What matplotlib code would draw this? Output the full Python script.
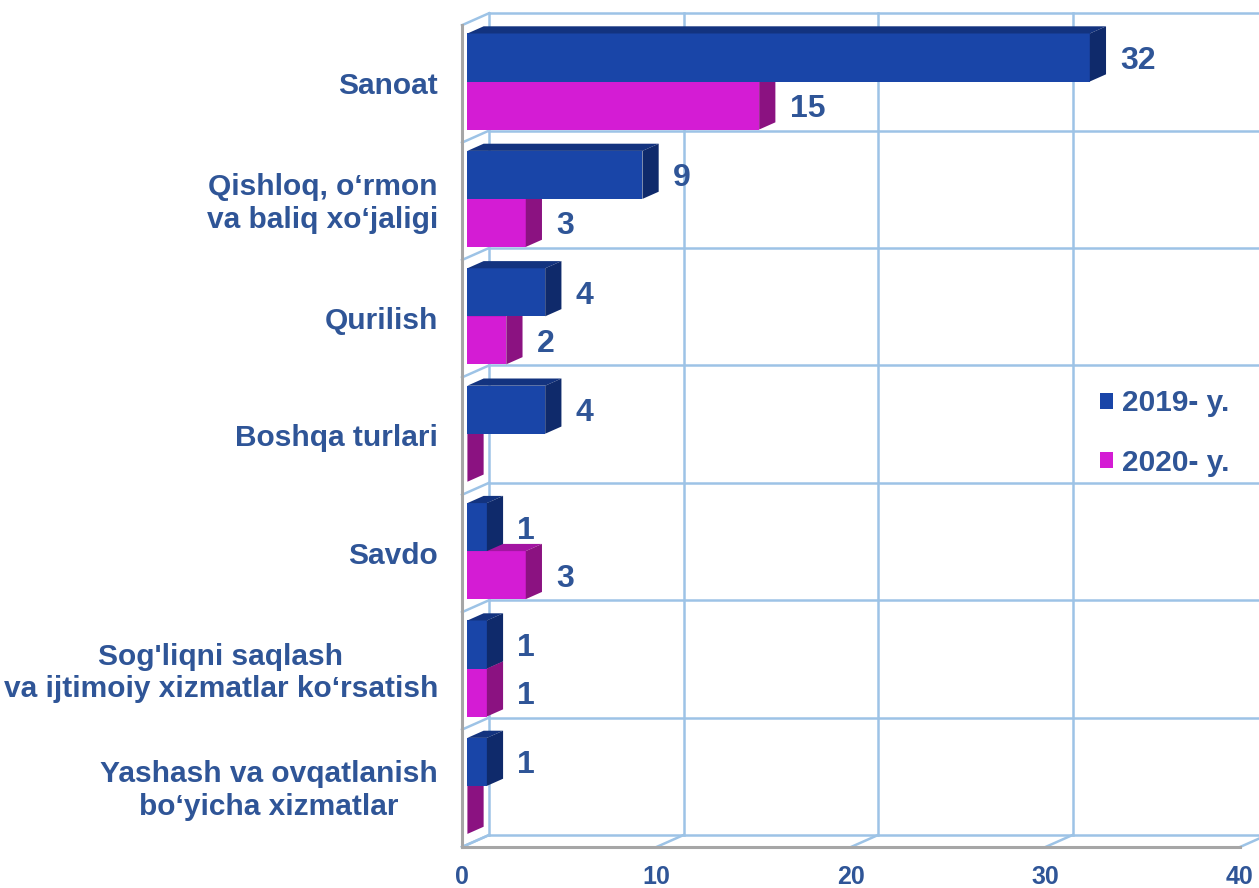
import matplotlib
matplotlib.use("Agg")
import matplotlib.pyplot as plt
from matplotlib.patches import Polygon, Patch

# categories from bottom to top
categories = [
    "Yashash va ovqatlanish\nbo\u2018yicha xizmatlar",
    "Sog'liqni saqlash\nva ijtimoiy xizmatlar ko\u2018rsatish",
    "Savdo",
    "Boshqa turlari",
    "Qurilish",
    "Qishloq, o\u2018rmon\nva baliq xo\u2018jaligi",
    "Sanoat",
]
vals_2019 = [1, 1, 1, 4, 4, 9, 32]
vals_2020 = [0, 1, 3, 0, 2, 3, 15]
series_names = ["2019- y.", "2020- y."]
xticks = [0, 10, 20, 30, 40]

text_color = "#2f5597"
grid_color = "#9dc3e6"
wall_color = "#a6a6a6"
# front, top, side shades for each series
blue = ("#1945a8", "#13337f", "#0f2a6b")
pink = ("#d41cd4", "#a315a2", "#8b1281")

# oblique depth offset (data units for full depth)
DX = 1.39
DY = 0.102
D0, D1 = 0.2, 0.8
BAR_H = 0.409

plt.rcParams["font.family"] = ["Liberation Sans", "DejaVu Sans"]
plt.rcParams["font.weight"] = "bold"

fig = plt.figure(figsize=(12.59, 8.88), dpi=100)
ax = fig.add_axes([0, 0, 1, 1])
ax.set_xlim(-462 / 19.45, (1259 - 462) / 19.45)
ax.set_ylim(-41 / 117.4, 847 / 117.4)
ax.axis("off")


def P(x, y, d):
    return (x + d * DX, y + d * DY)


n = len(categories)

# back wall grid
for t in xticks:
    ax.plot(*zip(P(t, 0, 1), P(t, n, 1)), color=grid_color, lw=1.8, zorder=1)
    ax.plot(*zip(P(t, 0, 0), P(t, 0, 1)), color=grid_color, lw=1.8, zorder=1)
for k in range(n + 1):
    ax.plot(*zip(P(0, k, 1), P(42, k, 1)), color=grid_color, lw=1.8, zorder=1)
    ax.plot(*zip(P(0, k, 0), P(0, k, 1)), color=grid_color, lw=1.8, zorder=1)

# front edges of the left wall and floor
ax.plot(*zip(P(0, 0, 0), P(0, n, 0)), color=wall_color, lw=2.2, zorder=2)
ax.plot(*zip(P(0, 0, 0), P(40, 0, 0)), color=wall_color, lw=2.2, zorder=2)


def bar(v, y0, y1, shades, z):
    front, top, side = shades
    if v > 0:
        ax.add_patch(Polygon([P(0, y0, D0), P(v, y0, D0), P(v, y1, D0), P(0, y1, D0)],
                             closed=True, fc=front, ec="none", zorder=z))
        ax.add_patch(Polygon([P(0, y1, D0), P(v, y1, D0), P(v, y1, D1), P(0, y1, D1)],
                             closed=True, fc=top, ec="none", zorder=z))
    ax.add_patch(Polygon([P(v, y0, D0), P(v, y0, D1), P(v, y1, D1), P(v, y1, D0)],
                         closed=True, fc=side, ec="none", zorder=z))


for k, name in enumerate(categories):
    mid = k + 0.5
    # lower series first so the upper one hides its top face
    bar(vals_2020[k], mid - BAR_H, mid, pink, 3 + 2 * k)
    bar(vals_2019[k], mid, mid + BAR_H, blue, 4 + 2 * k)
    for v, yc in ((vals_2019[k], mid + BAR_H / 2), (vals_2020[k], mid - BAR_H / 2)):
        if v > 0:
            ax.text(v + 1.85, yc - 0.01, str(v), ha="left", va="center",
                    fontsize=23, color=text_color, zorder=30)
    ax.text(-1.23, mid - 0.02, name, ha="right", va="center", multialignment="center",
            fontsize=21.5, color=text_color, linespacing=1.2)

for t in xticks:
    ax.text(t, -0.255, str(t), ha="center", va="center", fontsize=18, color=text_color)

handles = [Patch(fc=blue[0]), Patch(fc=pink[0])]
leg = ax.legend(handles, series_names, loc="center left",
                bbox_to_anchor=(1073 / 1259, 1 - 433 / 888), frameon=False,
                handlelength=0.45, handleheight=0.45, handletextpad=0.3,
                labelspacing=1.05, prop={"size": 21.5, "weight": "bold"})
for txt in leg.get_texts():
    txt.set_color(text_color)

fig.savefig("out.png", dpi=100)
